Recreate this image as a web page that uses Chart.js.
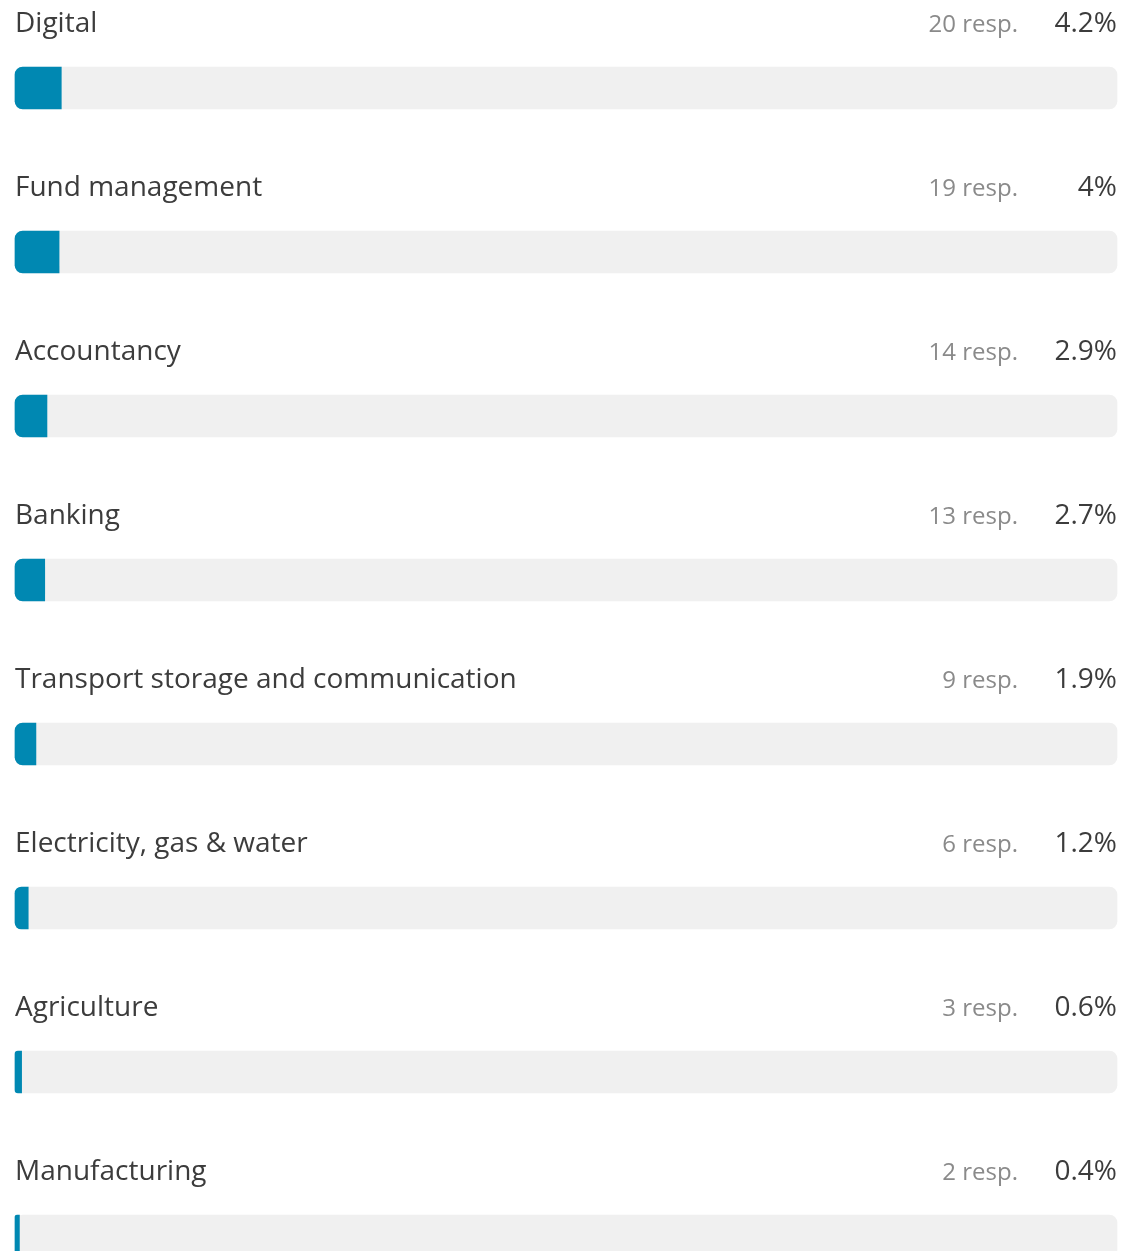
<!DOCTYPE html>
<html>
<head>
<meta charset="utf-8">
<script src="https://cdn.jsdelivr.net/npm/chart.js@4.4.1/dist/chart.umd.min.js"></script>
<style>
  html, body { margin: 0; padding: 0; background: #fff; overflow: hidden; }
  #wrap { width: 1125px; height: 1251px; position: relative; }
</style>
</head>
<body>
<div id="wrap"><canvas id="myChart"></canvas></div>
<script>
const sectors = ['Digital', 'Fund management', 'Accountancy', 'Banking',
  'Transport storage and communication', 'Electricity, gas & water',
  'Agriculture', 'Manufacturing'];
const responses = [20, 19, 14, 13, 9, 6, 3, 2];
const percents = [4.2, 4, 2.9, 2.7, 1.9, 1.2, 0.6, 0.4];
const track = sectors.map(() => 100);

const FONT = '"Open Sans", "Noto Sans", sans-serif';

// writes sector name, response count and share above each bar
const rowText = {
  id: 'rowText',
  afterDatasetsDraw(chart) {
    const ctx = chart.ctx;
    const y = chart.scales.y;
    const area = chart.chartArea;
    ctx.save();
    ctx.textBaseline = 'alphabetic';
    sectors.forEach((name, i) => {
      const cy = y.getPixelForValue(i);
      const base = cy - 56;
      ctx.font = '400 28px ' + FONT;
      ctx.fillStyle = '#3c3c3c';
      ctx.textAlign = 'left';
      ctx.fillText(name, area.left, base);
      ctx.textAlign = 'right';
      ctx.fillText(percents[i] + '%', area.right, base);
      ctx.font = '400 24px ' + FONT;
      ctx.fillStyle = '#8a8a8a';
      ctx.fillText(responses[i] + ' resp.', area.right - 99, base);
    });
    ctx.restore();
  }
};

const ctx = document.getElementById('myChart');
new Chart(ctx, {
  type: 'bar',
  data: {
    labels: sectors,
    datasets: [{
      label: 'share',
      data: percents,
      backgroundColor: '#0088b2',
      borderRadius: { topLeft: 8, bottomLeft: 8, topRight: 0, bottomRight: 0 },
      borderSkipped: false,
      barThickness: 42,
      clip: false,
      order: 1
    }, {
      label: 'track',
      data: track,
      backgroundColor: '#f0f0f0',
      borderRadius: 8,
      borderSkipped: false,
      barThickness: 42,
      clip: false,
      order: 2
    }]
  },
  options: {
    indexAxis: 'y',
    responsive: true,
    maintainAspectRatio: false,
    animation: false,
    layout: { padding: { top: 88, bottom: 15, left: 15, right: 8 } },
    datasets: { bar: { grouped: false } },
    plugins: { legend: { display: false }, tooltip: { enabled: false } },
    scales: {
      x: { display: false, min: 0, max: 100 },
      y: { display: false, offset: false }
    }
  },
  plugins: [rowText]
});
</script>
</body>
</html>
